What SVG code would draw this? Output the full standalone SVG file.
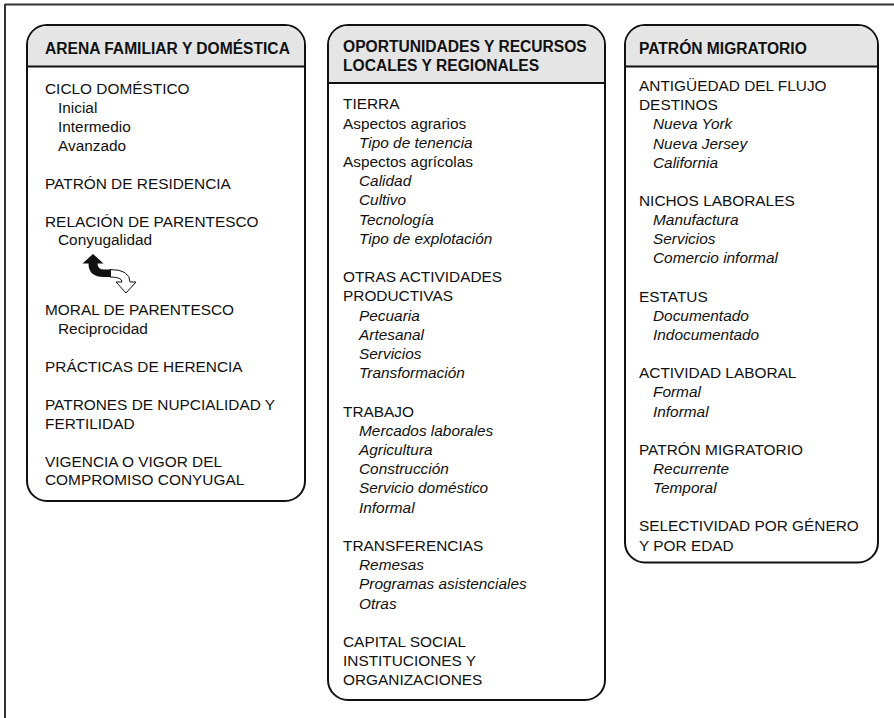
<svg xmlns="http://www.w3.org/2000/svg" width="894" height="718" viewBox="0 0 894 718">
<style>
.box{fill:#fff;stroke:#111;stroke-width:2}
.hdr{fill:#e5e5e5;stroke:none}
.sep{stroke:#111;stroke-width:2}
text{font-family:"Liberation Sans",Arial,sans-serif;font-size:15.4px;fill:#111}
.h{font-weight:bold;font-size:15.6px}
.i{font-style:italic}
</style>
<rect width="894" height="718" fill="#fff"/>
<g id="frame">
<line x1="5" y1="4.5" x2="894" y2="4.5" stroke="#333" stroke-width="2"/>
<line x1="5" y1="4" x2="5" y2="718" stroke="#333" stroke-width="2"/>
</g>

<g id="arena">
<rect class="box" x="27" y="25" width="278" height="476" rx="20"/>
<path class="hdr" d="M28,66.5 L28,45 A19,19 0 0 1 47,26 L285,26 A19,19 0 0 1 304,45 L304,66.5 Z"/>
<line class="sep" x1="27" y1="66.5" x2="305" y2="66.5"/>
<text class="h" x="45" y="54">ARENA FAMILIAR Y DOMÉSTICA</text>
<text x="45" y="94">CICLO DOMÉSTICO</text>
<text x="58" y="112.9">Inicial</text>
<text x="58" y="131.8">Intermedio</text>
<text x="58" y="150.7">Avanzado</text>
<text x="45" y="188.5">PATRÓN DE RESIDENCIA</text>
<text x="45" y="226.5">RELACIÓN DE PARENTESCO</text>
<text x="58" y="245.2">Conyugalidad</text>
<text x="45" y="315">MORAL DE PARENTESCO</text>
<text x="58" y="333.9">Reciprocidad</text>
<text x="45" y="372">PRÁCTICAS DE HERENCIA</text>
<text x="45" y="410">PATRONES DE NUPCIALIDAD Y</text>
<text x="45" y="428.8">FERTILIDAD</text>
<text x="45" y="466.5">VIGENCIA O VIGOR DEL</text>
<text x="45" y="485.3">COMPROMISO CONYUGAL</text>
</g>

<g id="connectors">
<path d="M110,269.5 Q130,269.5 130,282 L136,282 L126,293 L116,282 L122,282 Q122,277 110,277 Z" fill="#fff" stroke="#111" stroke-width="1"/>
<path d="M82.5,263.5 L93,254 L103.5,263.5 L97.5,263.5 Q97.5,269.5 104,269.5 L111,269.5 L111,277 L104,277 Q88.5,277 88.5,263.5 Z" fill="#111"/>
</g>

<g id="oportunidades">
<rect class="box" x="328" y="25" width="277" height="675" rx="20"/>
<path class="hdr" d="M329,83 L329,45 A19,19 0 0 1 348,26 L585,26 A19,19 0 0 1 604,45 L604,83 Z"/>
<line class="sep" x1="328" y1="83" x2="605" y2="83"/>
<text class="h" x="343" y="52">OPORTUNIDADES Y RECURSOS</text>
<text class="h" x="343" y="70.5">LOCALES Y REGIONALES</text>
<text x="343" y="109.3">TIERRA</text>
<text x="343" y="128.5">Aspectos agrarios</text>
<text class="i" x="359" y="147.7">Tipo de tenencia</text>
<text x="343" y="166.9">Aspectos agrícolas</text>
<text class="i" x="359" y="186.1">Calidad</text>
<text class="i" x="359" y="205.3">Cultivo</text>
<text class="i" x="359" y="224.5">Tecnología</text>
<text class="i" x="359" y="243.7">Tipo de explotación</text>
<text x="343" y="282.1">OTRAS ACTIVIDADES</text>
<text x="343" y="301.3">PRODUCTIVAS</text>
<text class="i" x="359" y="320.5">Pecuaria</text>
<text class="i" x="359" y="339.7">Artesanal</text>
<text class="i" x="359" y="358.9">Servicios</text>
<text class="i" x="359" y="378.1">Transformación</text>
<text x="343" y="416.5">TRABAJO</text>
<text class="i" x="359" y="435.7">Mercados laborales</text>
<text class="i" x="359" y="454.9">Agricultura</text>
<text class="i" x="359" y="474.1">Construcción</text>
<text class="i" x="359" y="493.3">Servicio doméstico</text>
<text class="i" x="359" y="512.5">Informal</text>
<text x="343" y="550.9">TRANSFERENCIAS</text>
<text class="i" x="359" y="570.1">Remesas</text>
<text class="i" x="359" y="589.3">Programas asistenciales</text>
<text class="i" x="359" y="608.5">Otras</text>
<text x="343" y="646.9">CAPITAL SOCIAL</text>
<text x="343" y="666.1">INSTITUCIONES Y</text>
<text x="343" y="685.3">ORGANIZACIONES</text>
</g>

<g id="patron">
<rect class="box" x="625" y="25" width="253" height="537.5" rx="20"/>
<path class="hdr" d="M626,66.5 L626,45 A19,19 0 0 1 645,26 L858,26 A19,19 0 0 1 877,45 L877,66.5 Z"/>
<line class="sep" x1="625" y1="66.5" x2="878" y2="66.5"/>
<text class="h" x="639" y="54">PATRÓN MIGRATORIO</text>
<text x="639" y="91">ANTIGÜEDAD DEL FLUJO</text>
<text x="639" y="110.2">DESTINOS</text>
<text class="i" x="653" y="129.3">Nueva York</text>
<text class="i" x="653" y="148.5">Nueva Jersey</text>
<text class="i" x="653" y="167.6">California</text>
<text x="639" y="205.9">NICHOS LABORALES</text>
<text class="i" x="653" y="225">Manufactura</text>
<text class="i" x="653" y="244.2">Servicios</text>
<text class="i" x="653" y="263.3">Comercio informal</text>
<text x="639" y="301.6">ESTATUS</text>
<text class="i" x="653" y="320.8">Documentado</text>
<text class="i" x="653" y="339.9">Indocumentado</text>
<text x="639" y="378.2">ACTIVIDAD LABORAL</text>
<text class="i" x="653" y="397.4">Formal</text>
<text class="i" x="653" y="416.5">Informal</text>
<text x="639" y="454.8">PATRÓN MIGRATORIO</text>
<text class="i" x="653" y="474">Recurrente</text>
<text class="i" x="653" y="493.1">Temporal</text>
<text x="639" y="531.4">SELECTIVIDAD POR GÉNERO</text>
<text x="639" y="550.6">Y POR EDAD</text>
</g>
</svg>
